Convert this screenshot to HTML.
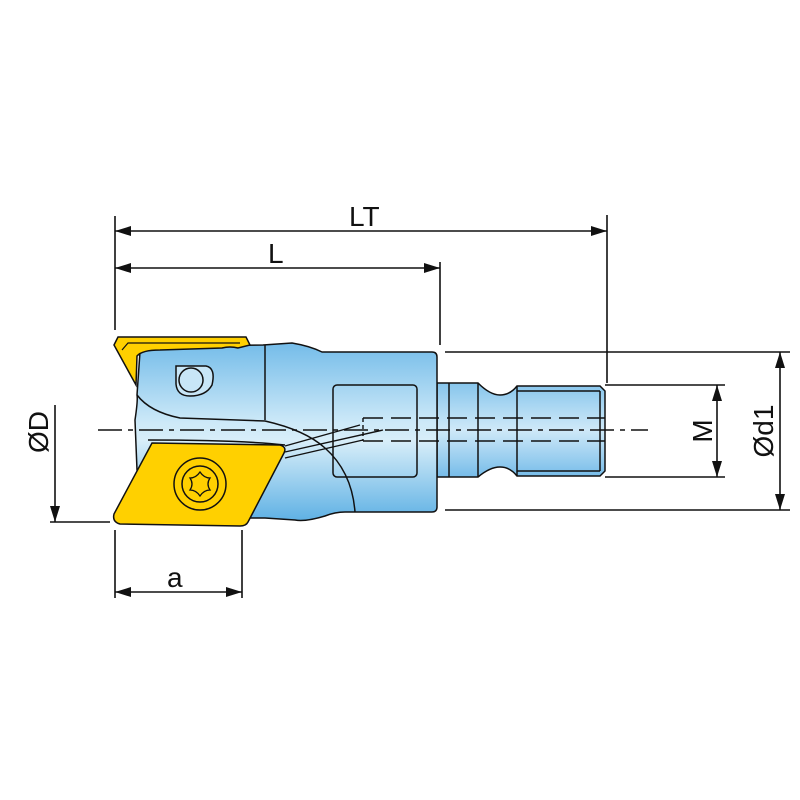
<!DOCTYPE html>
<html><head><style>body{margin:0;background:#fff}svg{display:block}</style></head><body>
<svg width="800" height="800" viewBox="0 0 800 800" xmlns="http://www.w3.org/2000/svg">
<defs>
<linearGradient id="b" x1="0" y1="0" x2="0" y2="1">
<stop offset="0" stop-color="#74bce9"/><stop offset="0.45" stop-color="#cde9f8"/><stop offset="0.55" stop-color="#d8eef9"/><stop offset="1" stop-color="#5fb1e4"/>
</linearGradient>
<linearGradient id="s" x1="0" y1="0" x2="0" y2="1">
<stop offset="0" stop-color="#86c5ec"/><stop offset="0.5" stop-color="#cfe9f8"/><stop offset="1" stop-color="#76bce9"/>
</linearGradient>
</defs>
<g stroke="#111" stroke-width="1.6" fill="none">
<line x1="115" y1="216" x2="115" y2="330"/>
<line x1="440" y1="262" x2="440" y2="345"/>
<line x1="607" y1="215" x2="607" y2="383"/>
<line x1="115" y1="231" x2="607" y2="231"/>
<line x1="115" y1="268" x2="440" y2="268"/>
<line x1="55" y1="405" x2="55" y2="522"/>
<line x1="50" y1="522" x2="110" y2="522"/>
<line x1="115" y1="530" x2="115" y2="598"/>
<line x1="242" y1="530" x2="242" y2="598"/>
<line x1="115" y1="592" x2="242" y2="592"/>
<line x1="605" y1="385" x2="725" y2="385"/>
<line x1="605" y1="477" x2="725" y2="477"/>
<line x1="717" y1="385" x2="717" y2="477"/>
<line x1="445" y1="352" x2="790" y2="352"/>
<line x1="445" y1="510" x2="790" y2="510"/>
<line x1="780" y1="352" x2="780" y2="510"/>
</g>
<g fill="#111">
<polygon points="115,231 131,226 131,236"/><polygon points="607,231 591,226 591,236"/>
<polygon points="115,268 131,263 131,273"/><polygon points="440,268 424,263 424,273"/>
<polygon points="55,522 50,506 60,506"/>
<polygon points="115,592 131,587 131,597"/><polygon points="242,592 226,587 226,597"/>
<polygon points="717,385 712,401 722,401"/><polygon points="717,477 712,461 722,461"/>
<polygon points="780,352 775,368 785,368"/><polygon points="780,510 775,494 785,494"/>
</g>
<g stroke="#111" stroke-width="1.5" fill="url(#s)">
<path d="M437,383 H478 Q490,395 500,395 Q510,395 517,386 H600 L605,391 V471 L600,476 H517 Q510,467 500,467 Q490,467 478,477 H437 Z"/>
<line x1="449" y1="383" x2="449" y2="477"/>
<line x1="478" y1="383" x2="478" y2="477"/>
<line x1="517" y1="386" x2="517" y2="476"/>
<line x1="517" y1="391" x2="600" y2="391"/><line x1="517" y1="471" x2="600" y2="471"/>
<line x1="600" y1="391" x2="600" y2="471"/>
</g>
<g stroke="#111" stroke-width="1.5">
<path fill="url(#b)" d="M140,352 Q145,347 165,346 L263,345 L292,343 Q310,346 322,352 L355,352 H432 Q437,352 437,357 V507 Q437,512 432,512 H345 Q335,512 325,516 Q305,522 295,520 L265,518 L150,518 L137,470 L135,420 Q138,400 137,395 Z"/>
<line x1="265" y1="345" x2="265" y2="420" fill="none"/>
<path fill="none" d="M137,395 Q150,412 180,418 L265,421 Q305,430 325,448 Q352,472 355,512"/>
<path fill="none" d="M148,440 Q240,440 285,445"/>
<rect x="333" y="385" width="84" height="92" rx="4" fill="none"/>
<path fill="#c8e6f7" d="M176,366 H206 Q216,368 212,385 Q206,396 190,396 Q177,396 176,384 Z"/>
<circle cx="191" cy="380" r="12" fill="none"/>
</g>
<path d="M114,345 L118,337 L246,337 L250,345 L238,348 Q230,346 222,348 L160,350 Q142,350 137,356 L136,385 Z" fill="#ffd000" stroke="#111" stroke-width="1.5"/>
<path d="M122,350 L128,343 L240,343" fill="none" stroke="#111" stroke-width="1.2"/>
<path d="M152,443 L280,445 Q287,447 284,453 L248,522 Q246,526 240,526 L120,524 Q112,522 114,514 Z" fill="#ffd000" stroke="#111" stroke-width="1.5"/>
<circle cx="200" cy="484" r="26" fill="none" stroke="#111" stroke-width="1.5"/>
<circle cx="200" cy="484" r="18" fill="none" stroke="#111" stroke-width="1.5"/>
<path d="M200,472 Q204,478 210,478 Q206,484 210,490 Q204,490 200,496 Q196,490 190,490 Q194,484 190,478 Q196,478 200,472 Z" fill="none" stroke="#111" stroke-width="1.3"/>
<g stroke="#111" stroke-width="1.4" fill="none">
<line x1="98" y1="430" x2="648" y2="430" stroke-dasharray="24,6,5,6"/>
<line x1="363" y1="418" x2="605" y2="418" stroke-dasharray="20,8"/>
<line x1="363" y1="441" x2="605" y2="441" stroke-dasharray="20,8"/>
<line x1="363" y1="418" x2="363" y2="441" stroke-dasharray="4,3"/>
<line x1="285" y1="452" x2="383" y2="430"/>
<line x1="285" y1="458" x2="363" y2="440"/>
<line x1="285" y1="446" x2="360" y2="425"/>
</g>
<g font-family="Liberation Sans, sans-serif" font-size="28" fill="#111">
<text x="349" y="226">LT</text>
<text x="268" y="263">L</text>
<text x="167" y="587">a</text>
<text transform="translate(48,432) rotate(-90)" text-anchor="middle">ØD</text>
<text transform="translate(712,431) rotate(-90)" text-anchor="middle">M</text>
<text transform="translate(773,431) rotate(-90)" text-anchor="middle">Ød1</text>
</g>
</svg>
</body></html>
